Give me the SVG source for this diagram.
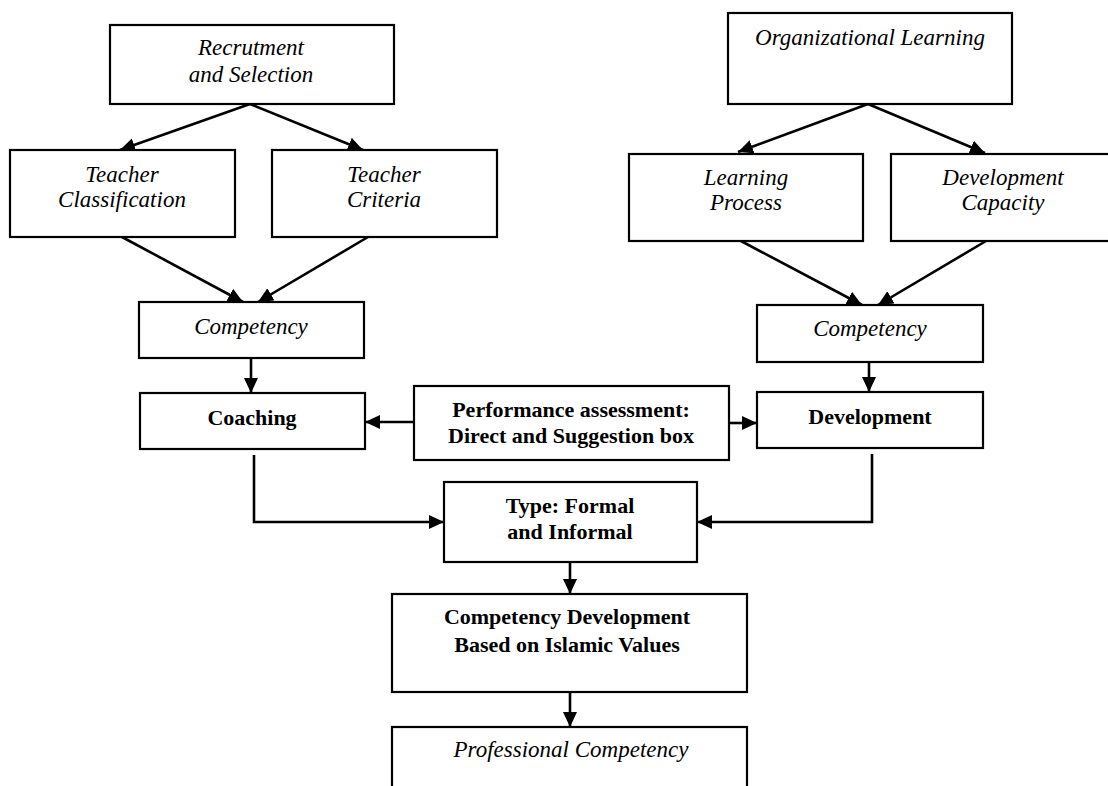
<svg xmlns="http://www.w3.org/2000/svg" width="1108" height="786" viewBox="0 0 1108 786">
<defs>
<style>
.box{fill:#fff;stroke:#000;stroke-width:2.2}
.it{font-family:"Liberation Serif","Times New Roman",serif;font-style:italic;font-size:23px;text-anchor:middle;fill:#000}
.bd{font-family:"Liberation Serif","Times New Roman",serif;font-weight:bold;font-size:22px;text-anchor:middle;fill:#000}
.con{fill:none;stroke:#000;stroke-width:2.6}
</style>
<marker id="ah" markerUnits="userSpaceOnUse" markerWidth="17" markerHeight="15" refX="15" refY="7" orient="auto">
<path d="M0,0 L15,7 L0,14 z" fill="#000"/>
</marker>
</defs>
<rect width="1108" height="786" fill="#fff"/>
<g id="connectors">
<line class="con" x1="250" y1="104" x2="120" y2="150" marker-end="url(#ah)"/>
<line class="con" x1="250" y1="104" x2="363" y2="150" marker-end="url(#ah)"/>
<line class="con" x1="122" y1="237" x2="243" y2="302" marker-end="url(#ah)"/>
<line class="con" x1="368" y1="237" x2="258" y2="302" marker-end="url(#ah)"/>
<line class="con" x1="251" y1="358" x2="251" y2="393" marker-end="url(#ah)"/>
<line class="con" x1="868" y1="104" x2="738" y2="152" marker-end="url(#ah)"/>
<line class="con" x1="868" y1="104" x2="985" y2="153" marker-end="url(#ah)"/>
<line class="con" x1="741" y1="241" x2="862" y2="305" marker-end="url(#ah)"/>
<line class="con" x1="986" y1="241" x2="878" y2="305" marker-end="url(#ah)"/>
<line class="con" x1="869" y1="362" x2="869" y2="392" marker-end="url(#ah)"/>
<line class="con" x1="414" y1="422" x2="365" y2="422" marker-end="url(#ah)"/>
<line class="con" x1="729" y1="423" x2="757" y2="423" marker-end="url(#ah)"/>
<polyline class="con" points="254,455 254,522 444,522" marker-end="url(#ah)"/>
<polyline class="con" points="872,454 872,522 697,522" marker-end="url(#ah)"/>
<line class="con" x1="570" y1="562" x2="570" y2="594" marker-end="url(#ah)"/>
<line class="con" x1="570" y1="692" x2="570" y2="727" marker-end="url(#ah)"/>
</g>
<g id="recruitment">
<rect class="box" x="110" y="25" width="284" height="79"/>
<text class="it" x="251" y="55">Recrutment</text>
<text class="it" x="251" y="82">and Selection</text>
</g>
<g id="teacher-classification">
<rect class="box" x="10" y="150" width="225" height="87"/>
<text class="it" x="122" y="182">Teacher</text>
<text class="it" x="122" y="207">Classification</text>
</g>
<g id="teacher-criteria">
<rect class="box" x="272" y="150" width="225" height="87"/>
<text class="it" x="384" y="182">Teacher</text>
<text class="it" x="384" y="207">Criteria</text>
</g>
<g id="org-learning">
<rect class="box" x="728" y="13" width="284" height="91"/>
<text class="it" x="870" y="45">Organizational Learning</text>
</g>
<g id="learning-process">
<rect class="box" x="629" y="154" width="234" height="87"/>
<text class="it" x="746" y="185">Learning</text>
<text class="it" x="746" y="210">Process</text>
</g>
<g id="development-capacity">
<rect class="box" x="891" y="154" width="230" height="87"/>
<text class="it" x="1003" y="185">Development</text>
<text class="it" x="1003" y="210">Capacity</text>
</g>
<g id="competency-left">
<rect class="box" x="139" y="302" width="225" height="56"/>
<text class="it" x="251" y="334">Competency</text>
</g>
<g id="competency-right">
<rect class="box" x="757" y="305" width="226" height="57"/>
<text class="it" x="870" y="336">Competency</text>
</g>
<g id="coaching">
<rect class="box" x="140" y="393" width="225" height="56"/>
<text class="bd" x="252" y="425">Coaching</text>
</g>
<g id="performance">
<rect class="box" x="414" y="386" width="315" height="74"/>
<text class="bd" x="571" y="417">Performance assessment:</text>
<text class="bd" x="571" y="443">Direct and Suggestion box</text>
</g>
<g id="development">
<rect class="box" x="757" y="392" width="226" height="56"/>
<text class="bd" x="870" y="424">Development</text>
</g>
<g id="type">
<rect class="box" x="444" y="482" width="253" height="80"/>
<text class="bd" x="570" y="513">Type: Formal</text>
<text class="bd" x="570" y="539">and Informal</text>
</g>
<g id="competency-development">
<rect class="box" x="392" y="594" width="355" height="98"/>
<text class="bd" x="567" y="624">Competency Development</text>
<text class="bd" x="567" y="652">Based on Islamic Values</text>
</g>
<g id="professional-competency">
<rect class="box" x="392" y="727" width="355" height="80"/>
<text class="it" x="571" y="757">Professional Competency</text>
</g>
</svg>
